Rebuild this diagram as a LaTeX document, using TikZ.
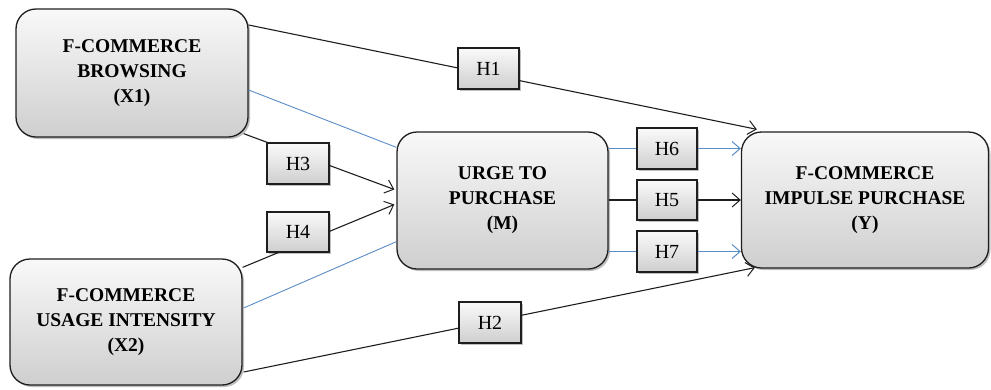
\documentclass[tikz,border=0pt]{standalone}
\usepackage{fontspec}
\setmainfont{Liberation Serif}
\usetikzlibrary{arrows.meta,shadows,calc}
\definecolor{linkblue}{RGB}{90,140,200}
\definecolor{edge}{RGB}{30,30,30}
\begin{document}
\begin{tikzpicture}[x=1pt,y=-1pt,
  shad/.style={drop shadow={shadow xshift=2pt,shadow yshift=-2pt,opacity=0.25,fill=black}},
  bigbox/.style={draw=edge, line width=1.3pt, rounded corners=20pt,
    top color=gray!5, bottom color=gray!38, shad, align=center,
    font=\fontsize{19.5}{25}\selectfont\bfseries, inner sep=0pt},
  hbox/.style={draw=edge, line width=1.2pt, top color=gray!4, bottom color=gray!38,
    shad, font=\fontsize{20}{24}\selectfont, inner sep=0pt},
  blk/.style={draw=edge, line width=1.1pt},
  blu/.style={draw=linkblue, line width=0.9pt},
  arr/.style={-{Straight Barb[length=8pt,width=14pt,line width=1pt]}}
]
\useasboundingbox (0,0) rectangle (991,389);

% main constructs
\node[bigbox, minimum width=232pt, minimum height=128pt] (X1) at (132,73)
  {F-COMMERCE\\BROWSING\\(X1)};
\node[bigbox, minimum width=232pt, minimum height=126pt] (X2) at (126,322)
  {F-COMMERCE\\USAGE INTENSITY\\(X2)};
\node[bigbox, minimum width=211pt, minimum height=137pt] (M) at (502.5,200.5)
  {URGE TO\\PURCHASE\\(M)};
\node[bigbox, minimum width=247pt, minimum height=136pt] (Y) at (865,200)
  {F-COMMERCE\\IMPULSE PURCHASE\\(Y)};

% connectors (drawn beneath the hypothesis labels)
\draw[blk, arr] ($(X1.east)+(0,-48)$) -- ($(Y.north west)+(16,-2)$);
\draw[blk, arr] ($(X2.east)+(1,50)$) -- ($(Y.south west)+(14,-1)$);
\draw[blk, arr] ($(X1.south east)+(-5,-4)$) -- ($(M.west)+(-2,-11)$);
\draw[blk, arr] ($(X2.north east)+(0,9)$) -- ($(M.west)+(-2,4)$);
\draw[blu] ($(X1.east)+(0,17)$) -- ($(M.north west)+(0,16)$);
\draw[blu] ($(X2.east)+(1,-14)$) -- ($(M.south west)+(0,-28)$);

% hypothesis labels
\node[hbox, minimum width=61pt, minimum height=41pt] (H1) at (488.5,68.5) {H1};
\node[hbox, minimum width=62pt, minimum height=41pt] (H2) at (490,322.5) {H2};
\node[hbox, minimum width=62pt, minimum height=41pt] (H3) at (298,163.5) {H3};
\node[hbox, minimum width=62pt, minimum height=40pt] (H4) at (298,232) {H4};
\node[hbox, minimum width=60pt, minimum height=41pt] (H6) at (667,148.5) {H6};
\node[hbox, minimum width=60pt, minimum height=40pt] (H5) at (667,200) {H5};
\node[hbox, minimum width=60pt, minimum height=41pt] (H7) at (667,251.5) {H7};

% mediator to outcome
\draw[blu] (M.east |- H6.west) -- (H6.west);
\draw[blu, arr] (H6.east) -- (Y.west |- H6.east);
\draw[blk] (M.east |- H5.west) -- (H5.west);
\draw[blk, arr] (H5.east) -- (Y.west |- H5.east);
\draw[blu] (M.east |- H7.west) -- (H7.west);
\draw[blu, arr] (H7.east) -- (Y.west |- H7.east);
\end{tikzpicture}
\end{document}
